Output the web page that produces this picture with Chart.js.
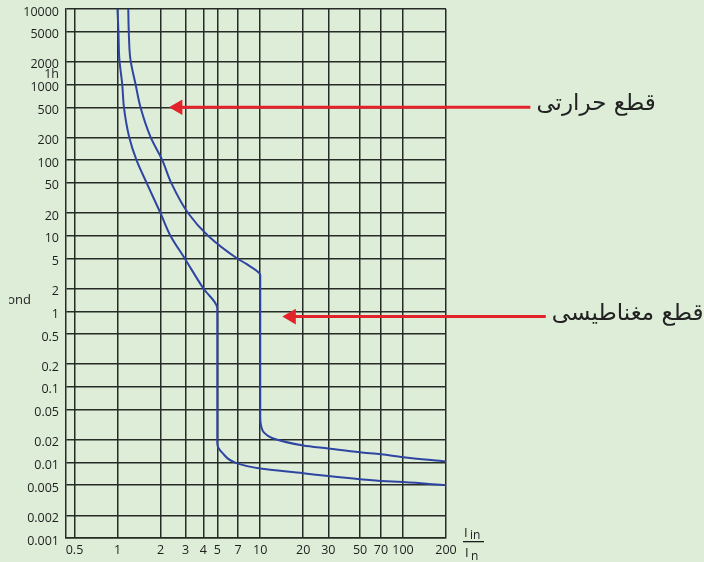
<!DOCTYPE html>
<html>
<head>
<meta charset="utf-8">
<script src="https://cdn.jsdelivr.net/npm/chart.js@4.4.0/dist/chart.umd.min.js"></script>
<style>
  html, body { margin: 0; padding: 0; background: #deedd8; }
  canvas { display: block; }
</style>
</head>
<body>
<canvas id="tripChart" width="704" height="562"></canvas>
<script>
// I/In on x, seconds on y (both log)
const xTicks = [0.5, 1, 2, 3, 4, 5, 7, 10, 20, 30, 50, 70, 100, 200];
const yTicks = [0.001, 0.002, 0.005, 0.01, 0.02, 0.05, 0.1, 0.2, 0.5, 1, 2, 5, 10, 20, 50, 100, 200, 500, 1000, 1500, 2000, 5000, 10000];
const yTickLabels = ['0.001', '0.002', '0.005', '0.01', '0.02', '0.05', '0.1', '0.2', '0.5', '1', '2', '5', '10', '20', '50', '100', '200', '500', '1000', '1h', '2000', '5000', '10000'];

// lower curve (min trip)
const lowerX = [1.0, 1.016, 1.03, 1.08, 1.11, 1.21, 1.36, 1.6, 2.0, 2.35, 2.96, 4.0, 5.0, 5.0, 5.1, 5.4, 6.8, 10, 20, 30, 50, 70, 100, 200];
const lowerY = [10000, 5000, 2200, 1000, 500, 200, 100, 50, 20, 10, 5, 2, 1.1, 0.018, 0.0155, 0.0135, 0.0098, 0.0083, 0.0072, 0.0066, 0.006, 0.0057, 0.0055, 0.005];

// upper curve (max trip)
const upperX = [1.19, 1.2, 1.23, 1.34, 1.45, 1.70, 2.06, 2.38, 3.12, 4.31, 6.9, 8.05, 10, 10, 10.15, 10.6, 12.2, 20, 30, 50, 70, 100, 200];
const upperY = [10000, 5000, 2200, 1000, 500, 205, 100, 50, 20, 10, 5, 4.2, 3.0, 0.04, 0.03, 0.025, 0.0209, 0.0168, 0.0153, 0.0136, 0.0128, 0.0117, 0.0103];

// arrows pointing at the curves
const arrowLabels = ['قطع حرارتی', 'قطع مغناطیسی'];
const arrowY = [500, 0.85];
const arrowFromX = [2.65, 16.5];
const arrowToX = [780, 1000];

const gridColor = '#262b26';
const inkColor = '#1e1e1e';

const toPoints = (xs, ys) => xs.map((x, i) => ({ x: x, y: ys[i] }));

// curves fall steadily in time, so smooth them along y
const curveStyle = {
  showLine: true,
  indexAxis: 'y',
  borderColor: '#2f45a2',
  borderWidth: 2,
  pointRadius: 0,
  cubicInterpolationMode: 'monotone',
  fill: false
};

const arrowDatasets = arrowLabels.map((label, i) => ({
  data: [{ x: arrowFromX[i], y: arrowY[i] }, { x: arrowToX[i], y: arrowY[i] }],
  showLine: true,
  borderColor: '#e3232c',
  backgroundColor: '#e3232c',
  borderWidth: 3,
  pointStyle: 'triangle',
  pointRotation: 270,
  pointRadius: [9, 0],
  pointBorderWidth: 0,
  clip: false
}));

const noOverflow = (scale) => {
  scale.paddingTop = 0;
  scale.paddingBottom = 0;
  scale.paddingLeft = 0;
  scale.paddingRight = 0;
};

const labelsPlugin = {
  id: 'labelsPlugin',
  afterDatasetsDraw(chart) {
    const { ctx, chartArea, scales: { x, y } } = chart;
    ctx.save();
    ctx.fillStyle = '#222';
    ctx.textBaseline = 'middle';
    ctx.textAlign = 'left';
    ctx.font = '23px "DejaVu Sans"';
    arrowLabels.forEach((t, i) => {
      ctx.fillText(t, x.getPixelForValue(arrowToX[i]) + 6, y.getPixelForValue(arrowY[i]) - 3);
    });

    // I_in / I_n
    const fx = chartArea.right + 17;
    const fy = chartArea.bottom;
    ctx.fillStyle = inkColor;
    ctx.textBaseline = 'alphabetic';
    ctx.font = '13px "Open Sans"';
    ctx.fillText('I', fx + 1, fy - 1);
    ctx.fillText('I', fx + 2, fy + 19);
    ctx.font = '12px "Open Sans"';
    ctx.fillText('in', fx + 7, fy + 1);
    ctx.fillText('n', fx + 8, fy + 22);
    ctx.fillRect(fx, fy + 3, 21, 1.3);

    // y title, cut by the left edge
    ctx.beginPath();
    ctx.rect(9, 280, 60, 40);
    ctx.clip();
    ctx.font = '13px "Open Sans"';
    ctx.textAlign = 'right';
    ctx.textBaseline = 'middle';
    ctx.fillText('Second', 31, 300);
    ctx.restore();
  }
};

new Chart(document.getElementById('tripChart'), {
  type: 'scatter',
  data: {
    datasets: [
      Object.assign({ data: toPoints(lowerX, lowerY) }, curveStyle),
      Object.assign({ data: toPoints(upperX, upperY) }, curveStyle),
      ...arrowDatasets
    ]
  },
  options: {
    responsive: false,
    animation: false,
    devicePixelRatio: 1,
    layout: { padding: { top: 7, right: 258, left: 0, bottom: 0 } },
    plugins: {
      legend: { display: false },
      tooltip: { enabled: false }
    },
    scales: {
      x: {
        type: 'logarithmic',
        bounds: 'data',
        min: 0.436,
        max: 200,
        afterBuildTicks: (scale) => { scale.ticks = xTicks.map(v => ({ value: v })); },
        afterFit: (scale) => { scale.height = 24; noOverflow(scale); },
        grid: { color: gridColor, lineWidth: 1.5, drawTicks: false },
        border: { display: true, color: gridColor, width: 1.5 },
        ticks: {
          autoSkip: false,
          maxRotation: 0,
          padding: 5,
          color: inkColor,
          font: { family: 'Open Sans', size: 12.5 },
          callback: (v, i) => String(xTicks[i])
        }
      },
      y: {
        type: 'logarithmic',
        bounds: 'data',
        min: 0.001,
        max: 10000,
        afterBuildTicks: (scale) => { scale.ticks = yTicks.map(v => ({ value: v })); },
        afterFit: (scale) => { scale.width = 66; noOverflow(scale); },
        grid: {
          color: (c) => (yTickLabels[c.index] === '1h' ? 'rgba(0,0,0,0)' : gridColor),
          lineWidth: 1.5,
          drawTicks: false
        },
        border: { display: true, color: gridColor, width: 1.5 },
        ticks: {
          autoSkip: false,
          padding: 7,
          labelOffset: 3,
          color: inkColor,
          font: { family: 'Open Sans', size: 12.5 },
          callback: (v, i) => yTickLabels[i]
        }
      }
    }
  },
  plugins: [labelsPlugin]
});
</script>
</body>
</html>
